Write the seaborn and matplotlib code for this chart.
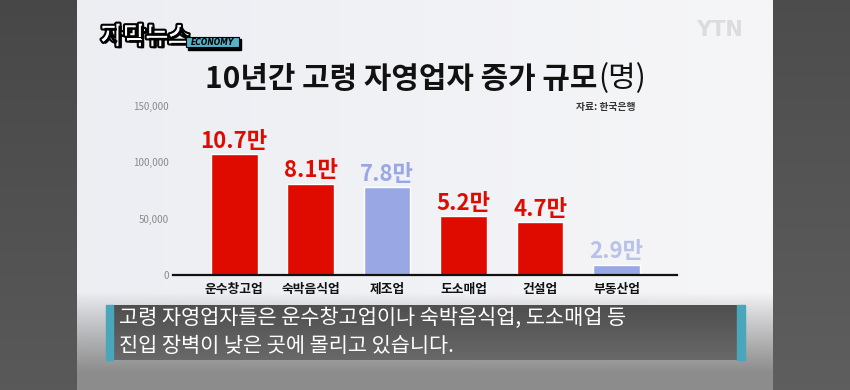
import numpy as np
import pandas as pd
import matplotlib
matplotlib.use('Agg')
import matplotlib.pyplot as plt
import matplotlib.patheffects as pe
from matplotlib.patches import Rectangle
import seaborn as sns

# data
categories = ['운수창고업', '숙박음식업', '제조업', '도소매업', '건설업', '부동산업']
values = [107000, 81000, 78000, 52000, 47000, 29000]
# last bar is still growing in the frame (animation), so it is drawn shorter
bar_heights = [107000, 81000, 78000, 52000, 47000, 9000]
value_labels = ['10.7만', '8.1만', '7.8만', '5.2만', '4.7만', '2.9만']
highlight = [True, True, False, True, True, False]
y_ticks = [0, 50000, 100000, 150000]

title = '10년간 고령 자영업자 증가 규모'
title_unit = '(명)'
source = '자료: 한국은행'
caption = ['고령 자영업자들은 운수창고업이나 숙박음식업, 도소매업 등',
           '진입 장벽이 낮은 곳에 몰리고 있습니다.']

RED = '#e00b00'
BLUE = '#99a7e4'

sns.set_theme(style='white')
plt.rcParams['font.family'] = ['Noto Sans CJK KR', 'DejaVu Sans']

W, H = 850, 390
fig = plt.figure(figsize=(W / 100, H / 100), dpi=100)

# background (pixel coordinates, y down)
bg = fig.add_axes([0, 0, 1, 1])
bg.set_xlim(0, W)
bg.set_ylim(H, 0)
bg.axis('off')

xs = np.linspace(0, 1, W)[None, :, None]
ys = np.arange(H)[:, None, None]
top_left = np.array([0.922, 0.930, 0.950])
top_right = np.array([0.968, 0.968, 0.975])
light = top_left * (1 - xs) + top_right * xs
t = np.clip((ys - 292) / 80, 0, 1) ** 0.9
img = light * (1 - t) + np.array([0.55, 0.55, 0.55]) * t
img = np.broadcast_to(img, (H, W, 3)).copy()
side = np.linspace(0.28, 0.35, H)[:, None, None]
img[:, :77, :] = side
img[:, 773:, :] = side + 0.02
bg.imshow(img, extent=[0, W, H, 0], aspect='auto', zorder=0)

# caption box
grad = np.linspace(0.31, 0.41, 50)[:, None, None] * np.ones((1, 10, 3))
bg.imshow(grad, extent=[113, 737, 360, 305], aspect='auto', zorder=1)
bg.add_patch(Rectangle((106, 305), 7, 55, color='#4aa6bb', zorder=2))
bg.add_patch(Rectangle((737, 305), 8, 55, color='#4aa6bb', zorder=2))
bg.text(119, 318, caption[0], color='white', fontsize=15, va='center', zorder=3)
bg.text(119, 346, caption[1], color='white', fontsize=15, va='center', zorder=3)

# logo
bg.text(101, 37, '자막뉴스', fontsize=17.5, weight='heavy', color='white', va='center',
        zorder=3, path_effects=[pe.withStroke(linewidth=3, foreground='black'),
                                pe.SimplePatchShadow(offset=(1.5, -1.5), shadow_rgbFace='black', alpha=1)])
bg.add_patch(Rectangle((188, 39), 53, 11, color='black', zorder=2))
bg.add_patch(Rectangle((186, 37), 53, 10, facecolor='#55b3c8', edgecolor='black', lw=0.8, zorder=3))
bg.text(212.5, 42.3, 'ECONOMY', fontsize=5.5, weight='bold', style='italic', color='black',
        ha='center', va='center', family='DejaVu Sans', zorder=4)

# watermark
bg.text(720, 30, 'YTN', fontsize=15, weight='bold', color='#dcdcdc', ha='center', va='center',
        family='DejaVu Sans', zorder=3)

# title
tt = bg.text(205, 79, title, fontsize=21.5, weight='black', color='#111111', va='center', zorder=3)
fig.canvas.draw()
ext = tt.get_window_extent()
x_end = bg.transData.inverted().transform((ext.x1, ext.y0))[0]
bg.text(x_end + 1, 79, title_unit, fontsize=21.5, weight='normal', color='#111111', va='center', zorder=3)
bg.text(636, 107, source, fontsize=7, weight='bold', color='#333333', ha='right', va='center', zorder=3)

# chart
ax = fig.add_axes([173 / W, 115 / H, 504 / W, 169 / H])
ax.set_facecolor('none')
df = pd.DataFrame({'category': categories, 'height': bar_heights})
palette = [RED if h else BLUE for h in highlight]
sns.barplot(data=df, x='category', y='height', hue='category', palette=palette,
            width=0.61, saturation=1, legend=False, ax=ax)

ax.set_xlim(-0.8, 5.79)
ax.set_ylim(0, 150000)
ax.set_yticks(y_ticks)
ax.set_yticklabels([f'{v:,}' for v in y_ticks])
ax.set_xlabel('')
ax.set_ylabel('')
ax.tick_params(axis='y', length=0, pad=3, labelsize=7, labelcolor='#8a8a8a')
ax.tick_params(axis='x', length=0, pad=6, labelsize=9.2, labelcolor='#111111')
for lab in ax.get_xticklabels():
    lab.set_fontweight('bold')
for s in ['left', 'top', 'right']:
    ax.spines[s].set_visible(False)
ax.spines['bottom'].set_color('#111111')
ax.spines['bottom'].set_linewidth(1.6)
ax.grid(False)

for i, (h, lab, hl) in enumerate(zip(bar_heights, value_labels, highlight)):
    col = RED if hl else BLUE
    alpha = 0.65 if i == len(categories) - 1 else 1
    ax.annotate(lab, (i, h), xytext=(0, 1), textcoords='offset points', ha='center', va='bottom',
                fontsize=16, weight='bold', color=col, alpha=alpha, annotation_clip=False)

fig.savefig('out.png', dpi=100)
